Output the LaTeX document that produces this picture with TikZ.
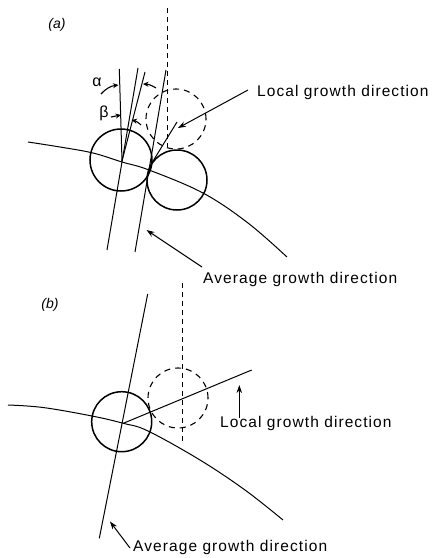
\documentclass[tikz,border=0pt]{standalone}
\usepackage{fontspec}
\setmainfont{Liberation Sans}
\newfontfamily\lblfont[LetterSpace=7]{Liberation Sans}
\usetikzlibrary{arrows.meta}
\begin{document}
\begin{tikzpicture}[x=1pt,y=-1pt,
  ln/.style={line width=1pt},
  circ/.style={line width=1.5pt},
  dsh/.style={line width=0.9pt, dash pattern=on 5pt off 4pt},
  dcirc/.style={line width=1.1pt, dash pattern=on 6pt off 5pt},
  lbl/.style={font=\lblfont\fontsize{15.5}{18}\selectfont, inner sep=0pt, anchor=west},
  tag/.style={font=\fontsize{14}{16}\selectfont\itshape, inner sep=0pt},
  greek/.style={font=\fontsize{16}{18}\selectfont, inner sep=0pt},
  lead/.style={line width=1pt, -{Stealth[length=8pt,width=5.5pt]}},
  ang/.style={line width=1.1pt, -{Stealth[length=5.5pt,width=5pt]}}]
\useasboundingbox (0,0) rectangle (432,558);

% ---------------- panel (a)
\node[tag] (ta) at (57,25) {(a)};
\coordinate (dAt) at (167,8);
\coordinate (dAb) at (167,147);
\draw[dsh] (dAt) -- (dAb);
\node[circle, draw, circ, minimum size=62pt, inner sep=0pt] (c1) at (121,160) {};
\node[circle, draw, circ, minimum size=60pt, inner sep=0pt] (c2) at (177,180) {};
\node[circle, draw, dcirc, minimum size=60pt, inner sep=0pt] (c3) at (176,119) {};
\coordinate (cA) at (122,161);
\coordinate (lAt) at (119.3,69);
\coordinate (lBt) at (138,68);
\coordinate (lBb) at (107,250);
\coordinate (lCt) at (145,72);
\coordinate (lDt) at (166,70);
\coordinate (lDb) at (135,252);
\coordinate (lgS) at (150,166);
\coordinate (lgE) at (177,122);
\draw[ln] (lAt) -- (cA);
\draw[ln] (lBt) -- (lBb);
\draw[ln] (lCt) -- (cA);
\draw[ln] (lDt) -- (lDb);
\draw[ln] (lgS) -- (lgE);
\draw[ln] plot[smooth, tension=0.6] coordinates {(28,142) (60,147) (93,153) (122,162) (149,170) (203,193) (248,223) (287,257)};
% angle labels
\node[greek] (alpha) at (97,82) {α};
\node[greek] (beta) at (104,113) {β};
\coordinate (aL1) at (101,94);  \coordinate (aL2) at (118.5,85);
\coordinate (aR1) at (156,88);  \coordinate (aR2) at (143,84);
\coordinate (bL1) at (111,117); \coordinate (bL2) at (121,115);
\coordinate (bR1) at (141,125); \coordinate (bR2) at (131.5,120);
\draw[ang] (aL1) to[bend left=20] (aL2);
\draw[ang] (aR1) to[bend right=15] (aR2);
\draw[ang] (bL1) -- (bL2);
\draw[ang] (bR1) to[bend right=15] (bR2);
% leaders
\node[lbl] (locA) at (257,92) {Local growth direction};
\coordinate (locAtip) at (178,128);
\draw[lead] (locA.west) ++(-9,-2) coordinate (locAs) -- (locAtip);
\node[lbl] (avgA) at (203,279) {Average growth direction};
\coordinate (avgAs) at (202,267);
\coordinate (avgAtip) at (146.5,230);
\draw[lead] (avgAs) -- (avgAtip);

% ---------------- panel (b)
\node[tag] (tb) at (50,305) {(b)};
\coordinate (dBt) at (182,283);
\coordinate (dBb) at (182,443);
\draw[dsh] (dBt) -- (dBb);
\node[circle, draw, circ, minimum size=60pt, inner sep=0pt] (c4) at (121.7,421.7) {};
\node[circle, draw, dcirc, minimum size=60pt, inner sep=0pt] (c5) at (178,398) {};
\coordinate (bAt) at (147.7,294);
\coordinate (bAb) at (99.3,538.3);
\draw[ln] (bAt) -- (bAb);
\coordinate (bC) at (123.3,423.3);
\coordinate (bLe) at (251.7,370);
\draw[ln] (bC) -- (bLe);
\draw[ln] plot[smooth, tension=0.6] coordinates {(8,405) (43,407.5) (92,416) (123.3,423.3) (148,431) (200,460) (245,490) (283,520)};
\node[lbl] (locB) at (220,423.5) {Local growth direction};
\coordinate (locBs) at (239.3,418);
\coordinate (locBtip) at (239.3,385);
\draw[lead] (locBs) -- (locBtip);
\node[lbl] (avgB) at (133,547) {Average growth direction};
\coordinate (avgBs) at (130,548);
\coordinate (avgBtip) at (110,521.5);
\draw[lead] (avgBs) -- (avgBtip);
\end{tikzpicture}
\end{document}
